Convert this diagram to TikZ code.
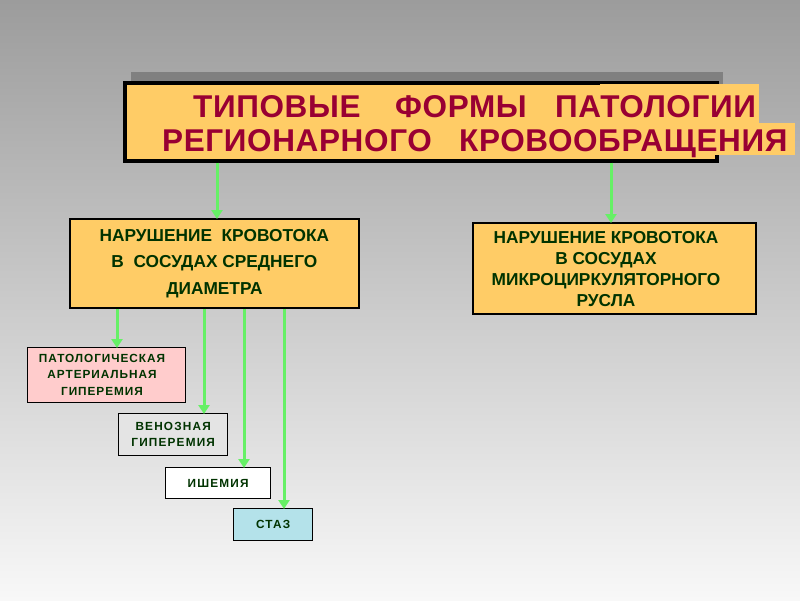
\documentclass[tikz,border=0pt]{standalone}
\usepackage{fontspec}
\setmainfont{Liberation Sans}
\usetikzlibrary{arrows.meta}
\definecolor{bgtop}{HTML}{9C9C9C}
\definecolor{bgbot}{HTML}{F8F8F8}
\definecolor{shadowgray}{HTML}{808080}
\definecolor{boxorange}{HTML}{FFCC66}
\definecolor{titlered}{HTML}{990033}
\definecolor{textgreen}{HTML}{003300}
\definecolor{arrowgreen}{HTML}{66F066}
\definecolor{pinkfill}{HTML}{FFCCCC}
\definecolor{marble}{HTML}{E4E4E4}
\definecolor{waterfill}{HTML}{B4E2EA}
\tikzset{
  titleword/.style={anchor=base west, inner sep=0pt, text=titlered,
    font=\fontsize{31.5}{31.5}\selectfont\bfseries\addfontfeature{LetterSpace=2}},
  bigbox/.style={draw=black, line width=1.8pt, fill=boxorange, anchor=north west,
    inner sep=0pt, align=center, text=textgreen},
  smallbox/.style={draw=black, line width=1.3pt, anchor=north west, inner sep=0pt,
    align=center, text=textgreen},
  boxtext/.style={inner sep=0pt, align=center, text=textgreen},
  arr/.style={draw=arrowgreen, line width=3pt,
    -{Triangle[width=11pt,length=9pt]}, shorten >=-1pt},
}
\begin{document}
\begin{tikzpicture}[x=1pt,y=-1pt]
\useasboundingbox (0,0) rectangle (800,600);
\shade[top color=bgtop, bottom color=bgbot] (0,0) rectangle (800,600);
% title shadow and box
\fill[shadowgray] (131,72) rectangle (723,150);
\node[draw=black, line width=3.5pt, fill=boxorange, anchor=north west,
  minimum width=592pt, minimum height=78pt, inner sep=0pt] (title) at (123,81) {};
% text highlights running past the box
\fill[boxorange] (600,84) rectangle (759,123);
\fill[boxorange] (600,123) rectangle (795,155);
\node[titleword] (w1) at (193,117) {ТИПОВЫЕ};
\node[titleword] (w2) at (395,117) {ФОРМЫ};
\node[titleword] (w3) at (555,117) {ПАТОЛОГИИ};
\node[titleword] (w4) at (162,151) {РЕГИОНАРНОГО};
\node[titleword] (w5) at (459,151) {КРОВООБРАЩЕНИЯ};
% second level boxes
\node[bigbox, minimum width=289pt, minimum height=89pt,
  font=\fontsize{17.3}{26.5}\selectfont\bfseries] (left) at (69,218)
  {НАРУШЕНИЕ\ \ КРОВОТОКА\\В\ \ СОСУДАХ СРЕДНЕГО\\ДИАМЕТРА};
\node[bigbox, minimum width=283pt, minimum height=91pt] (right) at (472,222) {};
\node[boxtext, font=\fontsize{17.3}{20.7}\selectfont\bfseries] (righttext) at (606,269)
  {НАРУШЕНИЕ КРОВОТОКА\\В СОСУДАХ\\МИКРОЦИРКУЛЯТОРНОГО\\РУСЛА};
% third level boxes
\node[smallbox, fill=pinkfill, minimum width=158pt, minimum height=55pt] (pink) at (27,347) {};
\node[boxtext, font=\fontsize{11.8}{16.5}\selectfont\bfseries\addfontfeature{LetterSpace=8}] (pinktext) at (102,374.5)
  {ПАТОЛОГИЧЕСКАЯ\\АРТЕРИАЛЬНАЯ\\ГИПЕРЕМИЯ};
\node[smallbox, fill=marble, minimum width=109pt, minimum height=42pt,
  font=\fontsize{11.8}{16}\selectfont\bfseries\addfontfeature{LetterSpace=10}] (ven) at (118,413)
  {ВЕНОЗНАЯ\\ГИПЕРЕМИЯ};
\node[smallbox, fill=white, minimum width=105pt, minimum height=31pt,
  font=\fontsize{11.8}{16}\selectfont\bfseries\addfontfeature{LetterSpace=10}] (isch) at (165,467)
  {ИШЕМИЯ};
\node[smallbox, fill=waterfill, minimum width=79pt, minimum height=32pt,
  font=\fontsize{11.8}{16}\selectfont\bfseries\addfontfeature{LetterSpace=10}] (stas) at (233,508)
  {СТАЗ};
% connectors
\draw[arr] (title.south -| 217,0) -- (left.north -| 217,0);
\draw[arr] (title.south -| 611,0) -- (right.north -| 611,0);
\draw[arr] (left.south -| 117,0) -- (pink.north -| 117,0);
\draw[arr] (left.south -| 204,0) -- (ven.north -| 204,0);
\draw[arr] (left.south -| 244,0) -- (isch.north -| 244,0);
\draw[arr] (left.south -| 284,0) -- (stas.north -| 284,0);
\end{tikzpicture}
\end{document}
